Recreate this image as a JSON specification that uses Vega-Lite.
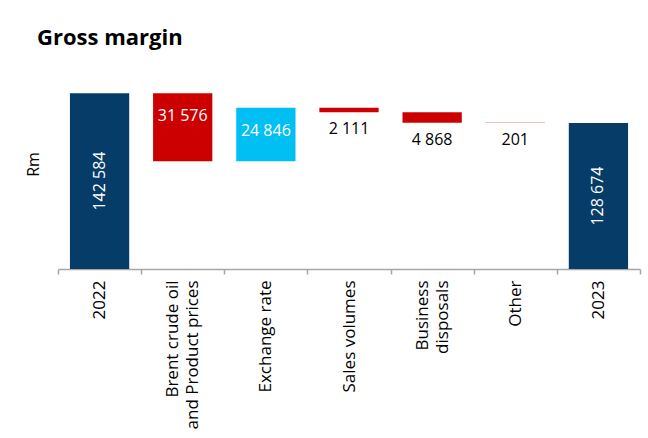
{
  "$schema": "https://vega.github.io/schema/vega-lite/v6.json",
  "autosize": {"type": "none"},
  "width": 582,
  "height": 194,
  "padding": {"left": 58, "top": 75, "right": 8, "bottom": 169},
  "background": "white",
  "title": {"text": "Gross margin", "anchor": "start", "frame": "group", "dx": -21, "fontSize": 22, "fontWeight": "bold", "font": "Open Sans", "color": "#000000", "offset": 25},
  "data": {"values": [
    {"step": "2022", "kind": "total", "amount": 142584, "start": 0, "end": 142584},
    {"step": "Brent crude oil|and Product prices", "kind": "decrease", "amount": 31576, "start": 142584, "end": 111008},
    {"step": "Exchange rate", "kind": "increase", "amount": 24846, "start": 111008, "end": 135854},
    {"step": "Sales volumes", "kind": "decrease", "amount": 2111, "start": 135854, "end": 133743},
    {"step": "Business|disposals", "kind": "decrease", "amount": 4868, "start": 133743, "end": 128875},
    {"step": "Other", "kind": "decrease", "amount": 201, "start": 128875, "end": 128674},
    {"step": "2023", "kind": "total", "amount": 128674, "start": 0, "end": 128674}
  ]},
  "encoding": {
    "x": {
      "field": "step", "type": "nominal", "sort": null,
      "scale": {"paddingInner": 0, "paddingOuter": 0},
      "axis": {
        "title": null, "labelAngle": -90, "tickBand": "extent",
        "domainColor": "#a6a6a6", "tickColor": "#a6a6a6", "domainWidth": 1.5, "tickWidth": 1.5, "tickSize": 5,
        "labelPadding": 6, "labelFontSize": 17, "labelFont": "Open Sans", "labelColor": "#000000",
        "labelExpr": "indexof(datum.label, '|') >= 0 ? [split(datum.label, '|')[0], '\u200b', split(datum.label, '|')[1]] : ['\u200b', datum.label]",
        "labelLimit": 400, "labelLineHeight": 10, "labelOffset": -10
      }
    }
  },
  "layer": [
    {
      "mark": {"type": "bar", "width": {"band": 0.713}},
      "encoding": {
        "y": {"field": "end", "type": "quantitative", "title": "Rm", "scale": {"domain": [61000, 151000], "clamp": true, "nice": false, "zero": false}, "axis": {"titleY": 89}},
        "y2": {"field": "start"},
        "color": {"field": "kind", "type": "nominal", "legend": null, "scale": {"domain": ["total", "decrease", "increase"], "range": ["#063c68", "#cc0000", "#00bff2"]}}
      }
    },
    {
      "transform": [
        {"filter": "datum.kind == 'total'"},
        {"calculate": "(max(datum.start, 61000) + datum.end) / 2", "as": "labelY"}
      ],
      "mark": {"type": "text", "angle": 270, "color": "white", "fontSize": 16, "font": "Open Sans", "align": "center", "baseline": "middle"},
      "encoding": {
        "y": {"field": "labelY", "type": "quantitative", "title": "Rm"},
        "text": {"field": "amount", "type": "quantitative", "format": ","}
      }
    },
    {
      "transform": [{"filter": "datum.kind == 'decrease' && datum.amount > 10000"}],
      "mark": {"type": "text", "color": "white", "fontSize": 16, "font": "Open Sans", "align": "center", "baseline": "middle", "dy": 23},
      "encoding": {
        "y": {"field": "start", "type": "quantitative", "title": "Rm"},
        "text": {"field": "amount", "type": "quantitative", "format": ","}
      }
    },
    {
      "transform": [{"filter": "datum.kind == 'increase'"}],
      "mark": {"type": "text", "color": "white", "fontSize": 16, "font": "Open Sans", "align": "center", "baseline": "middle", "dy": 23},
      "encoding": {
        "y": {"field": "end", "type": "quantitative", "title": "Rm"},
        "text": {"field": "amount", "type": "quantitative", "format": ","}
      }
    },
    {
      "transform": [{"filter": "datum.kind == 'decrease' && datum.amount < 10000"}],
      "mark": {"type": "text", "color": "#000000", "fontSize": 16, "font": "Open Sans", "align": "center", "baseline": "middle", "dy": 17},
      "encoding": {
        "y": {"field": "end", "type": "quantitative", "title": "Rm"},
        "text": {"field": "amount", "type": "quantitative", "format": ","}
      }
    }
  ],
  "config": {
    "view": {"stroke": null},
    "locale": {"number": {"decimal": ",", "thousands": " ", "grouping": [3], "currency": ["", ""]}},
    "axisY": {"domain": false, "ticks": false, "labels": false, "grid": false, "titleFontSize": 16, "titleFont": "Open Sans", "titleFontWeight": "normal", "titleColor": "#000000", "titlePadding": 17}
  }
}
